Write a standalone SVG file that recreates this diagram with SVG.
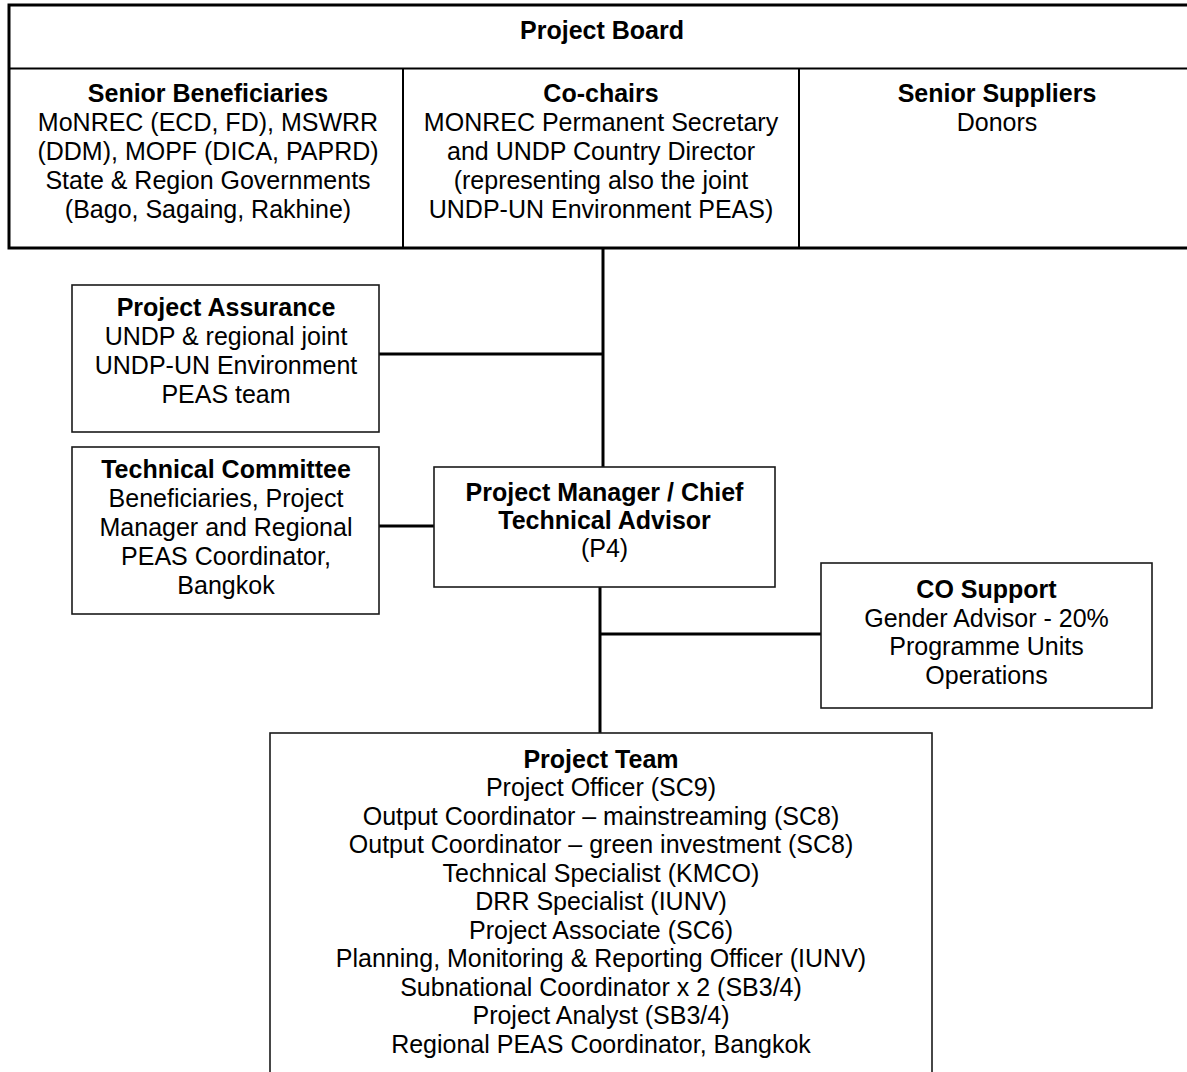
<svg xmlns="http://www.w3.org/2000/svg" width="1187" height="1072" viewBox="0 0 1187 1072">
<style>
  .box { fill: #ffffff; stroke: #1a1a1a; stroke-width: 1.6; }
  .board { fill: #ffffff; stroke: #000000; stroke-width: 3; }
  .div { stroke: #000000; stroke-width: 2; fill: none; }
  .conn { stroke: #000000; stroke-width: 3; fill: none; }
  text { font-family: "Liberation Sans", Arial, sans-serif; font-size: 25px; fill: #000000; text-anchor: middle; }
  .b { font-weight: bold; }
</style>
<rect width="1187" height="1072" fill="#ffffff"/>

<g id="connectors">
  <line class="conn" x1="603" y1="248" x2="603" y2="467"/>
  <line class="conn" x1="379" y1="354" x2="603" y2="354"/>
  <line class="conn" x1="379" y1="526" x2="434" y2="526"/>
  <line class="conn" x1="600" y1="587" x2="600" y2="733"/>
  <line class="conn" x1="600" y1="634" x2="821" y2="634"/>
</g>

<g id="project-board">
  <rect class="board" x="9" y="5" width="1190" height="243"/>
  <line class="div" x1="9" y1="68.5" x2="1199" y2="68.5"/>
  <line class="div" x1="403" y1="68.5" x2="403" y2="248"/>
  <line class="div" x1="799" y1="68.5" x2="799" y2="248"/>
  <text class="b" x="602" y="39">Project Board</text>
</g>

<g id="senior-beneficiaries">
  <text class="b" x="208" y="102">Senior Beneficiaries</text>
  <text x="208" y="131">MoNREC (ECD, FD), MSWRR</text>
  <text x="208" y="160">(DDM), MOPF (DICA, PAPRD)</text>
  <text x="208" y="189">State &amp; Region Governments</text>
  <text x="208" y="218">(Bago, Sagaing, Rakhine)</text>
</g>

<g id="co-chairs">
  <text class="b" x="601" y="102">Co-chairs</text>
  <text x="601" y="131">MONREC Permanent Secretary</text>
  <text x="601" y="160">and UNDP Country Director</text>
  <text x="601" y="189">(representing also the joint</text>
  <text x="601" y="218">UNDP-UN Environment PEAS)</text>
</g>

<g id="senior-suppliers">
  <text class="b" x="997" y="102">Senior Suppliers</text>
  <text x="997" y="131">Donors</text>
</g>

<g id="project-assurance">
  <rect class="box" x="72" y="285" width="307" height="147"/>
  <text class="b" x="226" y="316">Project Assurance</text>
  <text x="226" y="345">UNDP &amp; regional joint</text>
  <text x="226" y="374">UNDP-UN Environment</text>
  <text x="226" y="403">PEAS team</text>
</g>

<g id="technical-committee">
  <rect class="box" x="72" y="447" width="307" height="167"/>
  <text class="b" x="226" y="478">Technical Committee</text>
  <text x="226" y="507">Beneficiaries, Project</text>
  <text x="226" y="536">Manager and Regional</text>
  <text x="226" y="565">PEAS Coordinator,</text>
  <text x="226" y="594">Bangkok</text>
</g>

<g id="project-manager">
  <rect class="box" x="434" y="467" width="341" height="120"/>
  <text class="b" x="604.5" y="501">Project Manager / Chief</text>
  <text class="b" x="604.5" y="529">Technical Advisor</text>
  <text x="604.5" y="557">(P4)</text>
</g>

<g id="co-support">
  <rect class="box" x="821" y="563" width="331" height="145"/>
  <text class="b" x="986.5" y="598">CO Support</text>
  <text x="986.5" y="626.5">Gender Advisor - 20%</text>
  <text x="986.5" y="655">Programme Units</text>
  <text x="986.5" y="683.5">Operations</text>
</g>

<g id="project-team">
  <rect class="box" x="270" y="733" width="662" height="360"/>
  <text class="b" x="601" y="767.5">Project Team</text>
  <text x="601" y="796">Project Officer (SC9)</text>
  <text x="601" y="824.5">Output Coordinator – mainstreaming (SC8)</text>
  <text x="601" y="853">Output Coordinator – green investment (SC8)</text>
  <text x="601" y="881.5">Technical Specialist (KMCO)</text>
  <text x="601" y="910">DRR Specialist (IUNV)</text>
  <text x="601" y="938.5">Project Associate (SC6)</text>
  <text x="601" y="967">Planning, Monitoring &amp; Reporting Officer (IUNV)</text>
  <text x="601" y="995.5">Subnational Coordinator x 2 (SB3/4)</text>
  <text x="601" y="1024">Project Analyst (SB3/4)</text>
  <text x="601" y="1052.5">Regional PEAS Coordinator, Bangkok</text>
</g>
</svg>
